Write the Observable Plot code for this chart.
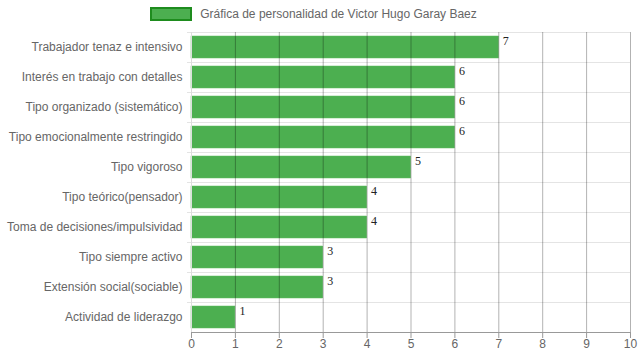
<!DOCTYPE html>
<html>
<head>
<meta charset="utf-8">
<script src="https://cdn.jsdelivr.net/npm/d3@7"></script>
<script src="https://cdn.jsdelivr.net/npm/@observablehq/plot@0.6"></script>
<style>
  body { margin: 0; background: white; font-family: "Liberation Sans", Arial, sans-serif; }
  #legend { height: 28px; display: flex; align-items: center; justify-content: center; font-size: 12px; color: #666; }
  #legend .box { width: 38px; height: 10px; background: #4caf50; border: 2px solid #1e8c1e; margin-right: 8px; margin-left: -12px; }
  #chart svg { display: block; }
</style>
</head>
<body>
<div id="legend"><span class="box"></span><span id="legendText"></span></div>
<div id="chart"></div>
<script>
const title = "Gráfica de personalidad de Victor Hugo Garay Baez";
const categories = [
  "Trabajador tenaz e intensivo",
  "Interés en trabajo con detalles",
  "Tipo organizado (sistemático)",
  "Tipo emocionalmente restringido",
  "Tipo vigoroso",
  "Tipo teórico(pensador)",
  "Toma de decisiones/impulsividad",
  "Tipo siempre activo",
  "Extensión social(sociable)",
  "Actividad de liderazgo"
];
const values = [7, 6, 6, 6, 5, 4, 4, 3, 3, 1];
const xTicks = [0, 1, 2, 3, 4, 5, 6, 7, 8, 9, 10];

document.getElementById("legendText").textContent = title;
const data = categories.map((c, i) => ({category: c, value: values[i]}));

const chart = Plot.plot({
  width: 639,
  height: 332,
  marginLeft: 191,
  marginRight: 9,
  marginTop: 4,
  marginBottom: 28,
  style: {background: "white", color: "#666", fontFamily: "Liberation Sans, Arial, sans-serif", fontSize: "12px"},
  x: {domain: [0, 10], ticks: xTicks, label: null},
  y: {domain: categories, paddingInner: 0.27, paddingOuter: 0.135, align: 0.5, label: null},
  marks: [
    Plot.ruleY(categories, {y: d => d, dy: -15, stroke: "#e4e4e4", insetLeft: -4}),
    Plot.barX(data, {y: "category", x: "value", fill: "#4caf50", stroke: "#5cbc5c", strokeWidth: 0.5}),
    Plot.gridX(xTicks, {stroke: "#000", strokeOpacity: 0.3}),
    Plot.frame({anchor: "left", stroke: "#ddd"}),
    Plot.axisX({ticks: xTicks, tickSize: 6, tickPadding: 1, stroke: "#999", fill: "#666", fontSize: 12, label: null}),
    Plot.frame({anchor: "bottom", stroke: "#999"}),
    Plot.axisY({tickSize: 0, tickPadding: 9, fill: "#666", fontSize: 12, label: null}),
    Plot.text(data, {y: "category", x: "value", text: d => String(d.value), textAnchor: "start", dx: 4, dy: -6, fill: "#222", fontFamily: "Liberation Serif, Times New Roman, serif", fontSize: 12})
  ]
});
document.getElementById("chart").appendChild(chart);
</script>
</body>
</html>
